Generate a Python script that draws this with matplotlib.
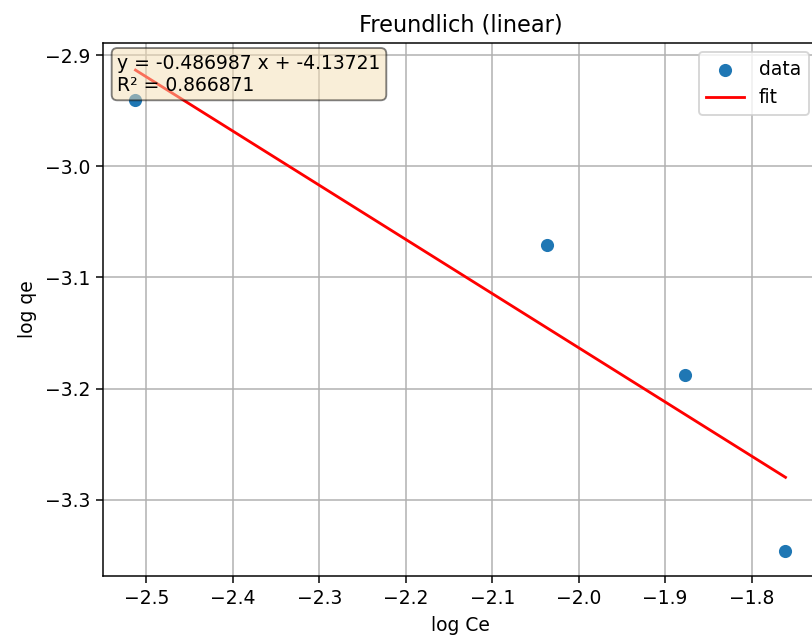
import numpy as np
import matplotlib
matplotlib.use("Agg")
import matplotlib.pyplot as plt

# values
log_ce = [-2.5127, -2.0372, -1.8764, -1.7607]
log_qe = [-2.9405, -3.0712, -3.1874, -3.3459]
slope = -0.486987
intercept = -4.13721
r_squared = 0.866871

DPI = 135
fig = plt.figure(figsize=(812 / DPI, 640 / DPI), dpi=DPI)
ax = fig.add_axes([103 / 812, 1 - 576 / 640, (818 - 103) / 812, (576 - 43) / 640])

ax.scatter(log_ce, log_qe, label="data")
x_fit = np.linspace(min(log_ce), max(log_ce), 100)
ax.plot(x_fit, slope * x_fit + intercept, color="red", label="fit")

ax.text(0.02, 0.98, f"y = {slope:g} x + {intercept:g}\nR² = {r_squared:g}",
        transform=ax.transAxes, va="top", ha="left",
        bbox=dict(boxstyle="round", facecolor="wheat", alpha=0.5))

ax.set_ylim(-3.3685, -2.8892)
ax.set_xlabel("log Ce")
ax.set_ylabel("log qe")
ax.set_title("Freundlich (linear)")
ax.grid(True)
ax.legend(loc="upper right")

fig.savefig("out.png", dpi=DPI)
